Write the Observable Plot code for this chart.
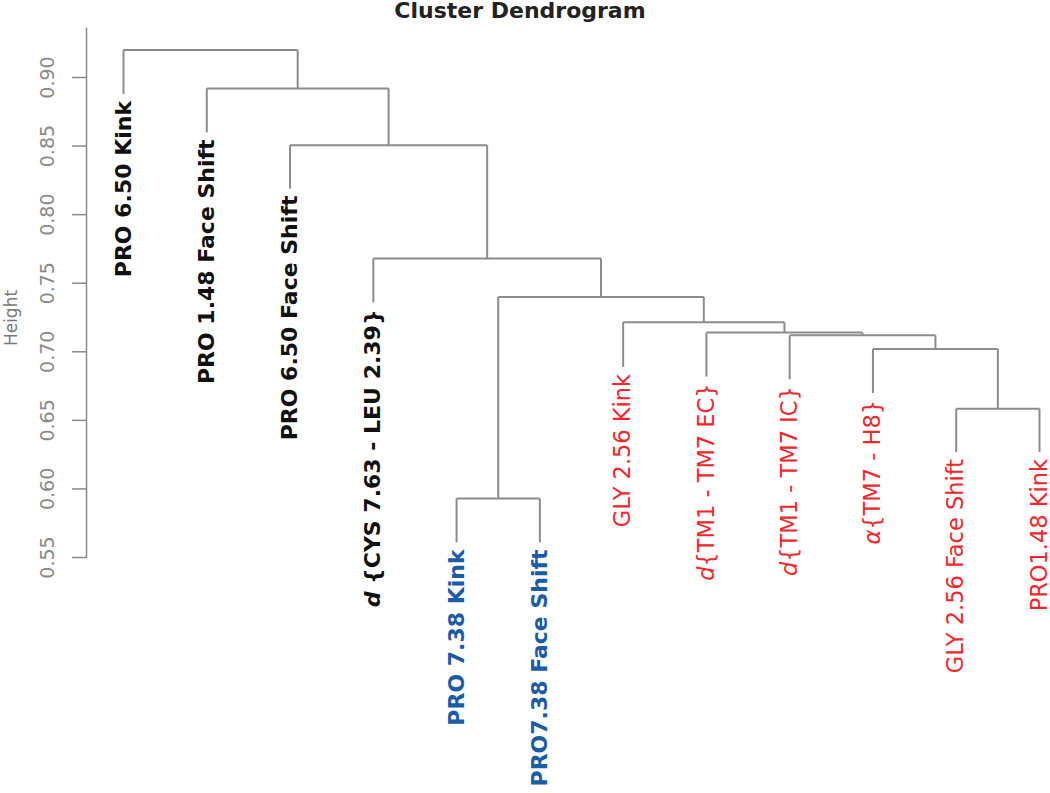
<!DOCTYPE html>
<html>
<head>
<meta charset="utf-8">
<script src="https://cdn.jsdelivr.net/npm/d3@7"></script>
<script src="https://cdn.jsdelivr.net/npm/@observablehq/plot@0.6"></script>
<style>
  body { margin: 0; background: #fff; }
  #wrap { position: relative; width: 1050px; height: 793px; }
  #title { position: absolute; left: 0; top: -2px; width: 1040px; text-align: center;
           font: bold 22px "DejaVu Sans", sans-serif; color: #222; line-height: 26px; }
</style>
</head>
<body>
<div id="wrap"><div id="title">Cluster Dendrogram</div></div>
<script>
// Leaves in plotting order
const leafLabels = [
  "PRO 6.50 Kink", "PRO 1.48 Face Shift", "PRO 6.50 Face Shift",
  "d {CYS 7.63 - LEU 2.39}", "PRO 7.38 Kink", "PRO7.38 Face Shift",
  "GLY 2.56 Kink", "d{TM1 - TM7 EC}", "d{TM1 - TM7 IC}", "α{TM7 - H8}",
  "GLY 2.56 Face Shift", "PRO1.48 Kink"
];
const leafGroups = ["black","black","black","black","blue","blue","red","red","red","red","red","red"];
// heights at which each leaf branch ends (hanging)
const leafHeights = [0.888, 0.860, 0.819, 0.736, 0.561, 0.561, 0.689, 0.682, 0.680, 0.670, 0.627, 0.627];
// hclust-style merge table: negative = leaf (1-based), positive = earlier merge
const mergeLeft  = [-5, -11, -10, -9, -8, -7, 1, -4, -3, -2, -1];
const mergeRight = [-6, -12,   2,  3,  4,  5, 6,  7,  8,  9, 10];
const mergeHeights = [0.593, 0.6585, 0.702, 0.712, 0.714, 0.7215, 0.740, 0.768, 0.8506, 0.892, 0.920];
// y axis ticks
const tickValues = [0.55, 0.60, 0.65, 0.70, 0.75, 0.80, 0.85, 0.90];
const tickLabels = ["0.55", "0.60", "0.65", "0.70", "0.75", "0.80", "0.85", "0.90"];

const groupColor = {black: "#111111", blue: "#1b5ba8", red: "#f2262c"};

// Build segments
const nodePos = [];
function pos(id) {
  if (id < 0) return {x: -id, h: leafHeights[-id - 1]};
  return nodePos[id - 1];
}
const segs = [];
mergeLeft.forEach((l, k) => {
  const a = pos(l), b = pos(mergeRight[k]), h = mergeHeights[k];
  segs.push({x1: a.x, y1: h, x2: b.x, y2: h});
  segs.push({x1: a.x, y1: a.h, x2: a.x, y2: h});
  segs.push({x1: b.x, y1: b.h, x2: b.x, y2: h});
  nodePos.push({x: (a.x + b.x) / 2, h});
});

const leaves = leafLabels.map((label, i) => ({
  idx: i + 1, label, h: leafHeights[i], group: leafGroups[i], color: groupColor[leafGroups[i]]
}));

const labelOpts = {
  x: "idx", y: "h", text: "label", fill: "color", rotate: -90,
  textAnchor: "end", lineAnchor: "middle", dy: 7
};

const chart = Plot.plot({
  width: 1050,
  height: 793,
  marginLeft: 86,
  marginRight: 8,
  marginTop: 28,
  marginBottom: 236,
  style: {fontFamily: "DejaVu Sans, sans-serif", background: "transparent"},
  x: {domain: [1, 12], range: [123, 1039], axis: null},
  y: {domain: [0.55, 0.90], range: [557, 77], axis: null},
  marks: [
    Plot.frame({anchor: "left", stroke: "#8a8a8a", strokeWidth: 1.5}),
    Plot.axisY({ticks: tickValues, tickSize: 14, tickFormat: () => "", stroke: "#8a8a8a", strokeWidth: 1.5, label: null}),
    Plot.text(tickLabels, {y: tickValues, text: d => d, frameAnchor: "left", dx: -39, rotate: -90,
      textAnchor: "middle", lineAnchor: "middle", fill: "#8a8a8a", fontSize: 19}),
    Plot.text(["Height"], {frameAnchor: "left", dx: -75, dy: 25, rotate: -90, text: d => d,
      textAnchor: "middle", lineAnchor: "middle", fill: "#7a7a7a", fontSize: 17}),
    Plot.link(segs, {x1: "x1", y1: "y1", x2: "x2", y2: "y2", stroke: "#8c8c8c", strokeWidth: 2}),
    Plot.text(leaves.filter(d => d.group !== "red"), {...labelOpts, fontSize: 22, fontWeight: "bold"}),
    Plot.text(leaves.filter(d => d.group === "red"), {...labelOpts, fontSize: 22.5})
  ]
});
document.getElementById("wrap").prepend(chart);

// italic prefixes (d, α)
chart.querySelectorAll("text").forEach(t => {
  const s = t.textContent;
  const m = s.match(/^(d|α)( ?\{.*)$/);
  if (m && t.children.length === 0) {
    t.textContent = "";
    const ns = "http://www.w3.org/2000/svg";
    const a = document.createElementNS(ns, "tspan");
    a.setAttribute("font-style", "italic");
    a.textContent = m[1];
    const b = document.createElementNS(ns, "tspan");
    b.textContent = m[2];
    t.append(a, b);
  }
});
</script>
</body>
</html>
